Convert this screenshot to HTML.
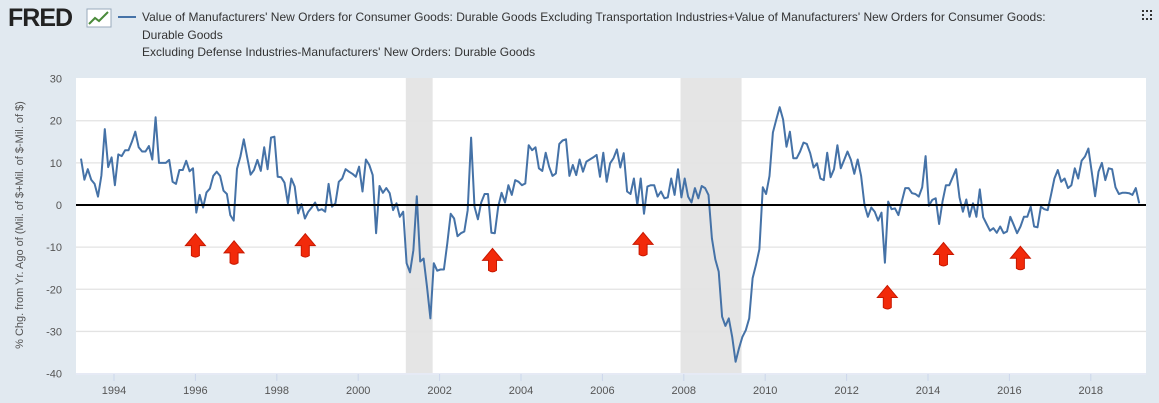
<!DOCTYPE html>
<html><head><meta charset="utf-8">
<style>
body{margin:0;width:1159px;height:403px;background:#e1e9f0;font-family:"Liberation Sans",sans-serif;overflow:hidden;position:relative}
.hdr{position:absolute;font-size:12px;color:#333;left:142px}
</style></head>
<body>
<div style="position:absolute;left:8px;top:4px;font-size:25px;font-weight:bold;color:#222;letter-spacing:-1px">FRED</div>
<svg style="position:absolute;left:86px;top:8px" width="26" height="20"><rect x="1" y="1" width="24" height="18" fill="#fff" stroke="#9ab" /><polyline points="3,16 9,10 13,13 22,4" fill="none" stroke="#4a8a3a" stroke-width="2"/></svg>
<div style="position:absolute;left:118px;top:16px;width:18px;height:2px;background:#4572a7"></div>
<div class="hdr" style="top:10px">Value of Manufacturers' New Orders for Consumer Goods: Durable Goods Excluding Transportation Industries+Value of Manufacturers' New Orders for Consumer Goods:</div>
<div class="hdr" style="top:28px">Durable Goods</div>
<div class="hdr" style="top:45px">Excluding Defense Industries-Manufacturers' New Orders: Durable Goods</div>
<div style="position:absolute;left:1142px;top:10px;width:10px;height:10px;border:2px dotted #333;box-sizing:border-box"></div>
<svg id="chart" width="1159" height="403" style="position:absolute;left:0;top:0"></svg>
<script>
const yTicks=[30,20,10,0,-10,-20,-30,-40];
const xTickYears=[1994,1996,1998,2000,2002,2004,2006,2008,2010,2012,2014,2016,2018];
const recessions=[[2001.17,2001.83],[2007.92,2009.42]];
const startYear=1993.19;
const values=[11,6,8.5,6,5,2,7,18,9,11.3,4.7,12,11.6,13,13,15,17.4,13.7,12.7,12.7,14,10.8,20.8,10,10,10,10.7,5.5,5,8.3,8.3,10.5,8,8.7,-1.8,2.4,-0.6,3,3.9,6.9,7.9,6.9,3.4,2.6,-2.4,-3.7,8.6,11.5,15.6,11.3,7.2,8.3,10.7,8.1,13.7,8.5,16,16.2,6.7,6.6,5.3,0.4,6.3,4.4,-2,0.2,-3.2,-1.6,-0.6,0.6,-1.3,-1,-1.6,5,-0.4,0.4,5.5,6.3,8.5,7.9,7.4,6.7,9.1,3.2,10.8,9.5,7.1,-6.7,4.5,2.9,4,2.8,-1.2,0.4,-2.8,-1.6,-13.8,-16,-10.7,2.1,-13.4,-12.7,-19.4,-26.9,-13.8,-15.6,
-15.3,-15.3,-9.1,-2.1,-3.2,-7.4,-6.7,-6.3,-1.2,16,-0.4,-3.4,0.6,2.6,2.6,-6.6,-6.7,-0.4,2.9,0.6,4.7,2.4,5.9,5.5,4.7,5.1,14.2,13,13.7,8.7,8.1,12.4,9.1,6.9,7.5,14.5,15.3,15.6,6.9,9.5,7.1,10.8,7.9,10.3,10.8,11.3,11.9,6.7,12.4,5.5,9.9,11.1,13.2,8.9,12.3,3.2,2.6,6.3,0,6.3,-2.1,4.4,4.7,4.7,2,3.2,1.6,1.8,6.3,2.4,8.5,1.8,6.3,2,0.6,4,1.6,4.5,4,2.4,-7.9,-12.9,-15.8,-26.5,-28.7,-26.9,-31.3,-37.2,-34,-31.3,-29.7,-26.9,-17.4,-14.2,-10.5,4.2,2.6,6.9,17.2,20.3,23.2,20.3,
13.8,17.4,11.1,11.1,12.7,14.8,14.5,12.3,8.9,9.9,6.3,5.9,12.4,6.6,8.5,14.2,8.7,10.7,12.7,10.7,7.4,10.8,6.9,0,-2.8,-0.6,-1.6,-3.7,-1.8,-13.7,0.8,-1,-0.8,-2.4,0.8,4,4,2.8,2.6,2,4.2,11.6,-0.2,1.2,1.6,-4.5,0.8,4.7,4.7,6.6,8.5,1.8,-1.6,1.3,-2.8,0.4,-2.8,3.7,-2.9,-4.5,-6.1,-5.5,-6.6,-5.1,-6.7,-6.3,-2.8,-4.7,-6.7,-5.1,-2.8,-2.8,-0.4,-5.1,-5.3,-0.4,-1,-1.2,2.4,6.3,8.3,5.5,6.3,4,4.7,8.7,6.3,10.5,11.5,13.4,7.9,2.1,7.9,10,5.9,8.7,8.5,4.2,2.6,2.9,2.9,2.8,2.4,4,0.4];
const arrowDates=[1996.0,1996.95,1998.7,2003.3,2007.0,2013.0,2014.38,2016.27];
const arrowValues=[-6.8,-8.5,-6.8,-10.3,-6.5,-19.1,-8.9,-9.8];

const NS='http://www.w3.org/2000/svg';
const svg=document.getElementById('chart');
const L=76,R=1146,T=78,B=373;
const xs=d=>114+(d-1994)*40.7;
const ys=v=>205-v*4.214;
function el(tag,attrs,parent){const e=document.createElementNS(NS,tag);for(const k in attrs)e.setAttribute(k,attrs[k]);(parent||svg).appendChild(e);return e;}
const bg=el('rect',{x:L,y:T,width:R-L,height:B-T+2,fill:'#fff'});


recessions.forEach(r=>{const e=el('rect',{x:xs(r[0]),y:T,width:xs(r[1])-xs(r[0]),height:B-T,fill:'#e5e5e5'});

});
yTicks.forEach(v=>{
 if(v!==0&&v!==30&&v!==-40){const g=el('line',{x1:L,x2:R,y1:ys(v),y2:ys(v),stroke:'#e3e3e3','stroke-width':1.3});
 
 }
 const t=el('text',{x:62,y:ys(v)+4,'text-anchor':'end','font-size':11,fill:'#555'});t.textContent=v;
 
 
});
const ax=el('line',{x1:L,x2:R,y1:B+1,y2:B+1,stroke:'#ccd6eb','stroke-width':1});


xTickYears.forEach(yr=>{
 const tk=el('line',{x1:xs(yr),x2:xs(yr),y1:B+1,y2:B+8,stroke:'#ccd6eb'});
 
 
 const t=el('text',{x:xs(yr),y:394,'text-anchor':'middle','font-size':11,fill:'#555'});t.textContent=yr;
 
 
});
const clip=el('clipPath',{id:'pc'});el('rect',{x:L,y:T,width:R-L,height:B-T},clip);
const pts=values.map((v,i)=>xs(startYear+i/12).toFixed(1)+','+ys(v).toFixed(1)).join(' ');
const line=el('polyline',{points:pts,fill:'none',stroke:'#4572a7','stroke-width':2,'stroke-linejoin':'round','clip-path':'url(#pc)'});


const z=el('line',{x1:L,x2:R,y1:ys(0),y2:ys(0),stroke:'#000','stroke-width':2});


arrowDates.forEach((d,i)=>{
 const cx=xs(d),ty=ys(arrowValues[i]);
 const p=el('path',{d:`M${cx},${ty} L${cx+10},${ty+12} L${cx+4},${ty+12} L${cx+4},${ty+22} Q${cx},${ty+25} ${cx-4},${ty+22} L${cx-4},${ty+12} L${cx-10},${ty+12} Z`,fill:'#f22a0a',stroke:'#c81800','stroke-width':1});
 
 
});
const yl=el('text',{x:0,y:0,transform:'translate(23,225) rotate(-90)','text-anchor':'middle','font-size':11,fill:'#555'});
yl.textContent='% Chg. from Yr. Ago of (Mil. of $+Mil. of $-Mil. of $)';


</script>
</body></html>
